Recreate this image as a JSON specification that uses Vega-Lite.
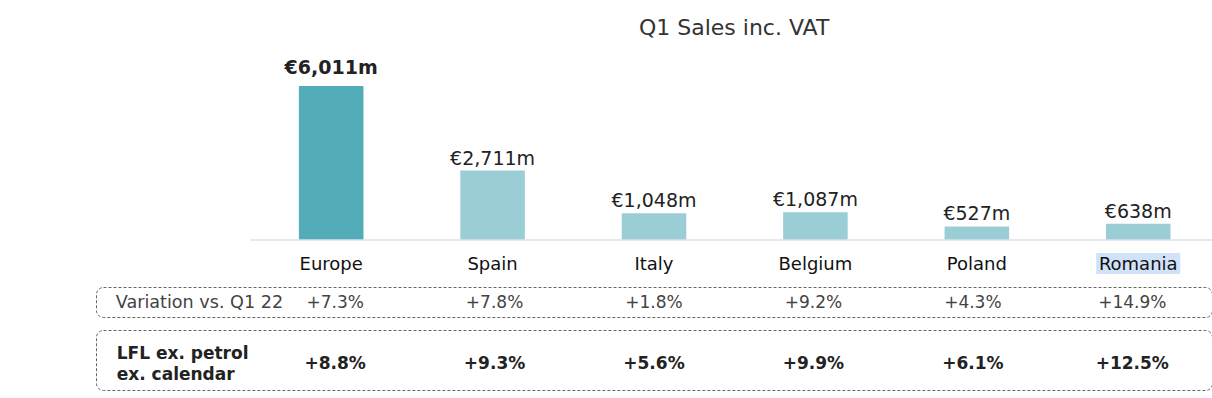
{
  "$schema": "https://vega.github.io/schema/vega-lite/v6.json",
  "background": "white",
  "padding": {"left": 95, "top": 17, "right": 0, "bottom": 0},
  "config": {"font": "DejaVu Sans", "view": {"stroke": null}},
  "title": {"text": "Q1 Sales inc. VAT", "fontSize": 22, "fontWeight": "normal", "color": "#333333", "anchor": "middle", "dx": 80, "offset": 0},
  "datasets": {
    "sales": [
      {"country": "Europe", "sales": 6011, "label": "€6,011m", "group": "Europe"},
      {"country": "Spain", "sales": 2711, "label": "€2,711m", "group": "Country"},
      {"country": "Italy", "sales": 1048, "label": "€1,048m", "group": "Country"},
      {"country": "Belgium", "sales": 1087, "label": "€1,087m", "group": "Country"},
      {"country": "Poland", "sales": 527, "label": "€527m", "group": "Country"},
      {"country": "Romania", "sales": 638, "label": "€638m", "group": "Country"}
    ],
    "rows": [
      {"country": "Europe", "variation": "+7.3%", "lfl": "+8.8%"},
      {"country": "Spain", "variation": "+7.8%", "lfl": "+9.3%"},
      {"country": "Italy", "variation": "+1.8%", "lfl": "+5.6%"},
      {"country": "Belgium", "variation": "+9.2%", "lfl": "+9.9%"},
      {"country": "Poland", "variation": "+4.3%", "lfl": "+6.1%"},
      {"country": "Romania", "variation": "+14.9%", "lfl": "+12.5%"}
    ]
  },
  "bounds": "flush",
  "spacing": 13,
  "vconcat": [
    {
      "width": 1116,
      "height": 200,
      "data": {"name": "sales"},
      "layer": [
        {
          "mark": {"type": "bar"},
          "encoding": {
            "x": {"field": "country", "type": "nominal", "scale": {"domain": ["header", "Europe", "Spain", "Italy", "Belgium", "Poland", "Romania"], "paddingInner": 0.6, "paddingOuter": 0.257}, "axis": null},
            "y": {"field": "sales", "type": "quantitative", "scale": {"domain": [0, 7806], "nice": false, "zero": true}, "axis": null},
            "color": {"field": "group", "type": "nominal", "scale": {"domain": ["Europe", "Country"], "range": ["#52adb8", "#9bcdd6"]}, "legend": null}
          }
        },
        {
          "data": {"values": [{}]},
          "mark": {"type": "rule", "color": "#dbe2e8", "strokeWidth": 1.5},
          "encoding": {
            "x": {"datum": "header", "type": "nominal", "bandPosition": 1.75},
            "x2": {"value": "width"},
            "y": {"datum": 0, "type": "quantitative"}
          }
        },
        {
          "transform": [{"filter": "datum.group === 'Europe'"}],
          "mark": {"type": "text", "fontSize": 19, "fontWeight": "bold", "color": "#222222", "baseline": "alphabetic", "dy": -12},
          "encoding": {
            "x": {"field": "country", "type": "nominal"},
            "y": {"field": "sales", "type": "quantitative"},
            "text": {"field": "label"}
          }
        },
        {
          "transform": [{"filter": "datum.group !== 'Europe'"}],
          "mark": {"type": "text", "fontSize": 19, "color": "#222222", "baseline": "alphabetic", "dy": -6},
          "encoding": {
            "x": {"field": "country", "type": "nominal"},
            "y": {"field": "sales", "type": "quantitative"},
            "text": {"field": "label"}
          }
        }
      ]
    },
    {
      "width": 1116,
      "height": 21,
      "data": {"name": "sales"},
      "layer": [
        {
          "transform": [{"filter": "datum.country === 'Romania'"}],
          "mark": {"type": "rect", "color": "#cfe2f8", "width": 84},
          "encoding": {
            "x": {"field": "country", "type": "nominal", "scale": {"domain": ["header", "Europe", "Spain", "Italy", "Belgium", "Poland", "Romania"], "paddingInner": 0.6, "paddingOuter": 0.257}, "axis": null}
          }
        },
        {
          "mark": {"type": "text", "fontSize": 18, "color": "#111111", "dy": 1.5},
          "encoding": {
            "x": {"field": "country", "type": "nominal"},
            "text": {"field": "country"}
          }
        }
      ]
    },
    {
      "width": 1116,
      "height": 30,
      "view": {"stroke": "#666666", "strokeDash": [3, 2], "cornerRadius": 7, "strokeWidth": 1},
      "layer": [
        {
          "data": {"name": "rows"},
          "mark": {"type": "text", "fontSize": 17, "color": "#444444", "dy": 1},
          "encoding": {
            "x": {"field": "country", "type": "nominal", "scale": {"domain": ["header", "Europe", "Spain", "Italy", "Belgium", "Poland", "Romania"], "paddingInner": 0.6, "paddingOuter": 0.257}, "axis": null},
            "text": {"field": "variation"}
          }
        },
        {
          "data": {"values": [{"header": "Variation vs. Q1 22"}]},
          "mark": {"type": "text", "fontSize": 17.6, "color": "#444444", "align": "left", "dx": -60, "dy": 1},
          "encoding": {
            "x": {"datum": "header", "type": "nominal", "bandPosition": 0},
            "text": {"field": "header"}
          }
        }
      ]
    },
    {
      "width": 1116,
      "height": 60,
      "view": {"stroke": "#666666", "strokeDash": [3, 2], "cornerRadius": 7, "strokeWidth": 1},
      "layer": [
        {
          "data": {"name": "rows"},
          "mark": {"type": "text", "fontSize": 17, "fontWeight": "bold", "color": "#222222", "dy": 4},
          "encoding": {
            "x": {"field": "country", "type": "nominal", "scale": {"domain": ["header", "Europe", "Spain", "Italy", "Belgium", "Poland", "Romania"], "paddingInner": 0.6, "paddingOuter": 0.257}, "axis": null},
            "text": {"field": "lfl"}
          }
        },
        {
          "data": {"values": [{"header": "LFL ex. petrol\nex. calendar"}]},
          "mark": {"type": "text", "fontSize": 17, "fontWeight": "bold", "color": "#222222", "align": "left", "dx": -59, "dy": -6, "lineBreak": "\n", "lineHeight": 21},
          "encoding": {
            "x": {"datum": "header", "type": "nominal", "bandPosition": 0},
            "text": {"field": "header"}
          }
        }
      ]
    }
  ]
}
